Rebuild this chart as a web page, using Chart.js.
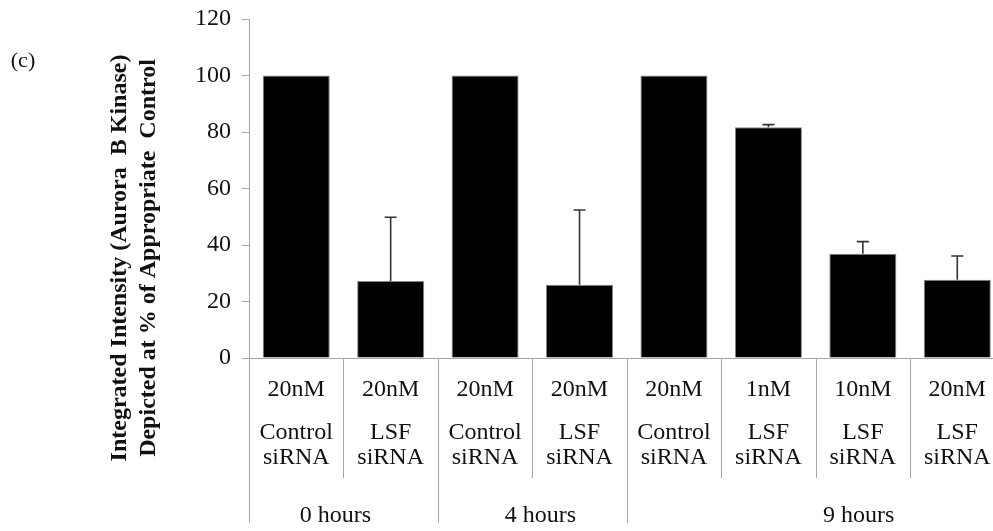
<!DOCTYPE html>
<html>
<head>
<meta charset="utf-8">
<script src="https://cdn.jsdelivr.net/npm/chart.js@4/dist/chart.umd.min.js"></script>
<style>
  html, body { margin: 0; padding: 0; background: #fff; overflow: hidden; }
  #wrap { width: 993px; height: 531px; overflow: hidden; }
  canvas { display: block; }
</style>
</head>
<body>
<div id="wrap"><canvas id="c" width="1010" height="531"></canvas></div>
<script>
// Aurora B kinase integrated intensity, % of the matching control
const doses  = ["20nM", "20nM", "20nM", "20nM", "20nM", "1nM", "10nM", "20nM"];
const agents = ["Control", "LSF", "Control", "LSF", "Control", "LSF", "LSF", "LSF"];
const carriers = ["siRNA", "siRNA", "siRNA", "siRNA", "siRNA", "siRNA", "siRNA", "siRNA"];
const timeGroups = ["0 hours", "4 hours", "9 hours"];
const groupStart = [0, 2, 4];
const groupEnd   = [1, 3, 7];
const values = [100, 27.3, 100, 25.9, 100, 81.7, 36.9, 27.7];
const errors = [0, 22.5, 0, 26.5, 0, 0.9, 4.3, 8.4];
const yTicks = [0, 20, 40, 60, 80, 100, 120];

const SERIF = '"Liberation Serif", "Times New Roman", serif';
const AXIS_GREY = '#a6a6a6';

const errorBars = {
  id: 'errorBars',
  afterDatasetsDraw(chart) {
    const ctx = chart.ctx;
    const y = chart.scales.y;
    const meta = chart.getDatasetMeta(0);
    ctx.save();
    ctx.strokeStyle = '#333';
    ctx.lineWidth = 1.6;
    meta.data.forEach((bar, i) => {
      if (!errors[i]) return;
      const top = y.getPixelForValue(values[i] + errors[i]);
      const base = y.getPixelForValue(values[i]);
      ctx.beginPath();
      ctx.moveTo(bar.x, base);
      ctx.lineTo(bar.x, top);
      ctx.moveTo(bar.x - 6, top);
      ctx.lineTo(bar.x + 6, top);
      ctx.stroke();
    });
    ctx.restore();
  }
};

const categoryLabels = {
  id: 'categoryLabels',
  afterDraw(chart) {
    const ctx = chart.ctx;
    const x = chart.scales.x;
    const area = chart.chartArea;
    const n = doses.length;
    const half = (x.getPixelForValue(1) - x.getPixelForValue(0)) / 2;
    ctx.save();
    // separators between categories and between time groups
    ctx.strokeStyle = AXIS_GREY;
    ctx.lineWidth = 1;
    for (let i = 0; i <= n; i++) {
      const px = Math.round(x.getPixelForValue(i) - half) + 0.5;
      const isGroup = groupStart.includes(i);
      ctx.beginPath();
      ctx.moveTo(px, area.bottom);
      ctx.lineTo(px, isGroup ? area.bottom + 165 : area.bottom + 120);
      ctx.stroke();
    }
    // three text rows under each bar
    ctx.fillStyle = '#111';
    ctx.textAlign = 'center';
    ctx.textBaseline = 'middle';
    ctx.font = '24px ' + SERIF;
    for (let i = 0; i < n; i++) {
      const cx = x.getPixelForValue(i);
      ctx.fillText(doses[i], cx, area.bottom + 32);
      ctx.fillText(agents[i], cx, area.bottom + 75);
      ctx.fillText(carriers[i], cx, area.bottom + 100);
    }
    // time-point group labels
    const shift = [-8, 8, 43];
    timeGroups.forEach((g, k) => {
      const l = x.getPixelForValue(groupStart[k]) - half;
      const r = x.getPixelForValue(groupEnd[k]) + half;
      ctx.fillText(g, (l + r) / 2 + shift[k], area.bottom + 158);
    });
    // y axis title, two bold lines, rotated
    ctx.save();
    ctx.translate(120, 258);
    ctx.rotate(-Math.PI / 2);
    ctx.font = 'bold 24px ' + SERIF;
    ctx.fillText('Integrated Intensity (Aurora  B Kinase)', 0, 0, 413);
    ctx.fillText('Depicted at % of Appropriate  Control', 0, 29, 410);
    ctx.restore();
    // panel letter
    ctx.font = '22px ' + SERIF;
    ctx.fillText('(c)', 23, 61);
    ctx.restore();
  }
};

new Chart(document.getElementById('c'), {
  type: 'bar',
  data: {
    labels: doses.map((d, i) => d + ' ' + agents[i]),
    datasets: [{
      data: values,
      backgroundColor: '#000',
      borderColor: '#858585',
      borderWidth: 1,
      categoryPercentage: 1,
      barPercentage: 0.71
    }]
  },
  options: {
    responsive: false,
    animation: false,
    devicePixelRatio: 1,
    layout: { padding: { top: 19, right: 5.5, bottom: 173, left: 0 } },
    plugins: { legend: { display: false }, tooltip: { enabled: false } },
    scales: {
      x: {
        ticks: { display: false },
        grid: { display: false },
        border: { display: true, color: AXIS_GREY, width: 1 },
        afterFit(scale) { scale.height = 0; }
      },
      y: {
        min: 0,
        max: 120,
        afterBuildTicks(scale) { scale.ticks = yTicks.map(v => ({ value: v })); },
        ticks: {
          color: '#111',
          padding: 11,
          font: { family: SERIF, size: 24 }
        },
        grid: { drawOnChartArea: false, drawTicks: true, tickLength: 7, color: AXIS_GREY },
        border: { display: true, color: AXIS_GREY, width: 1 },
        afterFit(scale) {
          scale.width = 249;
          scale.paddingTop = 0;
          scale.paddingBottom = 0;
        }
      }
    }
  },
  plugins: [errorBars, categoryLabels]
});
</script>
</body>
</html>
